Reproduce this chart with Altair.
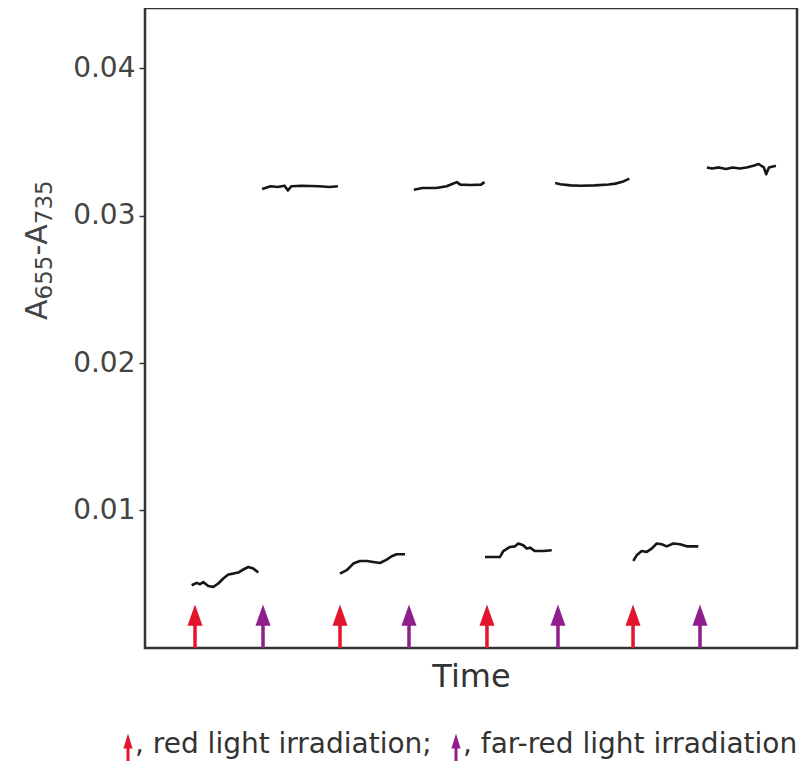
import altair as alt
import pandas as pd

# ---- data ----
# low-level traces (after red light), time in arbitrary units (0-100)
low1_t = [7.16, 7.93, 8.44, 8.94, 9.71, 10.48, 11.24, 12.01, 12.78, 13.54, 14.31, 15.08, 15.84, 16.61, 17.38]
low1_v = [0.00492, 0.00508, 0.00499, 0.00513, 0.00487, 0.00481, 0.00504, 0.00538, 0.00565, 0.00571, 0.00578, 0.00599, 0.00616, 0.00605, 0.00578]
low2_t = [29.91, 30.94, 31.95, 32.97, 34.00, 35.01, 36.04, 37.07, 37.84, 38.60, 39.88]
low2_v = [0.00571, 0.00594, 0.00639, 0.00657, 0.00657, 0.00650, 0.00643, 0.00666, 0.00689, 0.00702, 0.00702]
low3_t = [52.15, 54.45, 54.95, 55.98, 56.75, 57.25, 58.02, 58.54, 59.05, 59.81, 61.09, 62.38]
low3_v = [0.00684, 0.00684, 0.00724, 0.00752, 0.00756, 0.00775, 0.00763, 0.00741, 0.00747, 0.00724, 0.00724, 0.00729]
low4_t = [74.89, 75.41, 76.18, 76.95, 77.71, 78.48, 79.25, 80.01, 81.03, 82.05, 83.08, 84.86]
low4_v = [0.00657, 0.00695, 0.00724, 0.00718, 0.00741, 0.00775, 0.00770, 0.00756, 0.00775, 0.00770, 0.00756, 0.00756]

# high-level traces (after far-red light)
high1_t = [17.96, 19.28, 20.34, 21.40, 21.92, 22.45, 24.03, 26.69, 28.27, 29.59]
high1_v = [0.03181, 0.03200, 0.03195, 0.03204, 0.03172, 0.03200, 0.03204, 0.03200, 0.03195, 0.03200]
high2_t = [41.23, 42.55, 44.66, 46.26, 47.30, 47.84, 48.36, 49.95, 51.53, 52.07]
high2_v = [0.03177, 0.03188, 0.03188, 0.03200, 0.03219, 0.03228, 0.03211, 0.03209, 0.03211, 0.03228]
high3_t = [62.91, 63.70, 65.29, 66.87, 68.99, 71.10, 72.16, 73.22, 74.28]
high3_v = [0.03222, 0.03214, 0.03206, 0.03204, 0.03206, 0.03212, 0.03218, 0.03230, 0.03252]
high4_t = [86.18, 86.96, 88.03, 89.09, 90.15, 91.21, 92.27, 93.31, 94.11, 94.91, 95.27, 95.70, 96.76]
high4_v = [0.03328, 0.03321, 0.03328, 0.03317, 0.03328, 0.03321, 0.03328, 0.03340, 0.03351, 0.03328, 0.03282, 0.03328, 0.03340]

# irradiation events
red_t = [7.67, 29.91, 52.45, 74.85]
farred_t = [18.10, 40.49, 63.34, 85.12]
arrow_base = 0.00066   # bottom of the axis
arrow_head = 0.00289   # centre of the arrow head

y_domain = [0.00066, 0.0441]
y_ticks = [0.01, 0.02, 0.03, 0.04]

# y-axis title pieces (A655-A735 with subscripts)
ytitle_text = ["A", "655", "-", "A", "735"]
ytitle_size = [30, 23, 30, 30, 23]

RED = "#e3142d"
PURPLE = "#8e1f8c"
FONT = "DejaVu Sans"

# ---- build tables ----
rows = []
segs = [("low1", low1_t, low1_v), ("low2", low2_t, low2_v), ("low3", low3_t, low3_v), ("low4", low4_t, low4_v),
        ("high1", high1_t, high1_v), ("high2", high2_t, high2_v), ("high3", high3_t, high3_v), ("high4", high4_t, high4_v)]
for name, ts, vs in segs:
    for t, v in zip(ts, vs):
        rows.append({"seg": name, "t": t, "v": v})
trace = pd.DataFrame(rows)

arrows = pd.DataFrame(
    [{"t": t, "kind": "red", "base": arrow_base, "head": arrow_head} for t in red_t]
    + [{"t": t, "kind": "far-red", "base": arrow_base, "head": arrow_head} for t in farred_t]
)

xscale = alt.Scale(domain=[0, 100], nice=False, zero=False)
yscale = alt.Scale(domain=y_domain, nice=False, zero=False)
cscale = alt.Scale(domain=["red", "far-red"], range=[RED, PURPLE])

lines = alt.Chart(trace).mark_line(color="#161616", strokeWidth=2.6, strokeJoin="round").encode(
    x=alt.X("t:Q", scale=xscale,
            axis=alt.Axis(title="Time", labels=False, ticks=False, domain=False, grid=False,
                          titleFontSize=32, titleFont=FONT, titleFontWeight="normal",
                          titleColor="#333", titlePadding=13)),
    y=alt.Y("v:Q", scale=yscale,
            axis=alt.Axis(title=None, values=y_ticks, format=".2f", grid=False, domain=False,
                          tickSize=6, tickWidth=1.5, tickColor="#333",
                          labelFontSize=28, labelFont=FONT, labelColor="#444", labelPadding=4)),
    detail="seg:N",
)

shafts = alt.Chart(arrows).mark_rule(strokeWidth=3.5).encode(
    x="t:Q", y="base:Q", y2="head:Q",
    color=alt.Color("kind:N", scale=cscale, legend=None),
)

heads = alt.Chart(arrows).mark_point(
    shape="M0,-1L0.7,1L-0.7,1Z", filled=True, size=460, opacity=1
).encode(
    x="t:Q", y="head:Q",
    color=alt.Color("kind:N", scale=cscale, legend=None),
)

# ---- rotated y-axis title built from pieces (for subscripts) ----
ypos = []
cur = 312.0  # bottom end of the title (plot-area pixels)
for txt, sz in zip(ytitle_text, ytitle_size):
    ypos.append(cur)
    w = sum(0.636 if c.isdigit() else (0.684 if c == "A" else 0.361) for c in txt) * sz
    cur -= w
ytitle = pd.DataFrame({
    "label": ytitle_text,
    "fs": ytitle_size,
    "px": [-98 if s >= 30 else -93 for s in ytitle_size],
    "py": ypos,
})
ytitle_marks = alt.Chart(ytitle).mark_text(
    angle=270, align="left", baseline="alphabetic", font=FONT, color="#444"
).encode(
    x=alt.X("px:Q", scale=None), y=alt.Y("py:Q", scale=None), text="label:N",
    size=alt.Size("fs:Q", scale=None, legend=None),
)

# ---- caption below the plot (legend of arrows) ----
cap_y = 737
cap_rows = pd.DataFrame([
    {"k": "red", "ax": -17, "tx": -10, "label": ", red light irradiation;"},
    {"k": "far-red", "ax": 311, "tx": 318, "label": ", far-red light irradiation"},
])

cap_text = alt.Chart(cap_rows).mark_text(
    align="left", baseline="middle", fontSize=28, font=FONT, color="#333"
).encode(
    x=alt.X("tx:Q", scale=None), y=alt.value(cap_y), text="label:N"
)
cap_shaft = alt.Chart(cap_rows).mark_rule(strokeWidth=3).encode(
    x=alt.X("ax:Q", scale=None), y=alt.value(cap_y + 1), y2=alt.value(cap_y + 16),
    color=alt.Color("k:N", scale=cscale, legend=None),
)
cap_head = alt.Chart(cap_rows).mark_point(
    shape="M0,-1L0.6,1L-0.6,1Z", filled=True, size=230, opacity=1
).encode(
    x=alt.X("ax:Q", scale=None), y=alt.value(cap_y - 4),
    color=alt.Color("k:N", scale=cscale, legend=None),
)

chart = alt.layer(lines, shafts, heads, ytitle_marks, cap_shaft, cap_head, cap_text).resolve_scale(
    color="shared"
).properties(
    width=652, height=640,
    background="white",
    autosize=alt.AutoSizeParams(type="none"),
    padding={"left": 137, "top": 0, "right": 7, "bottom": 114},
).configure_view(
    stroke="#333", strokeWidth=2.5
)

chart.save("out.html", embed_options={"renderer": "svg", "actions": False})
